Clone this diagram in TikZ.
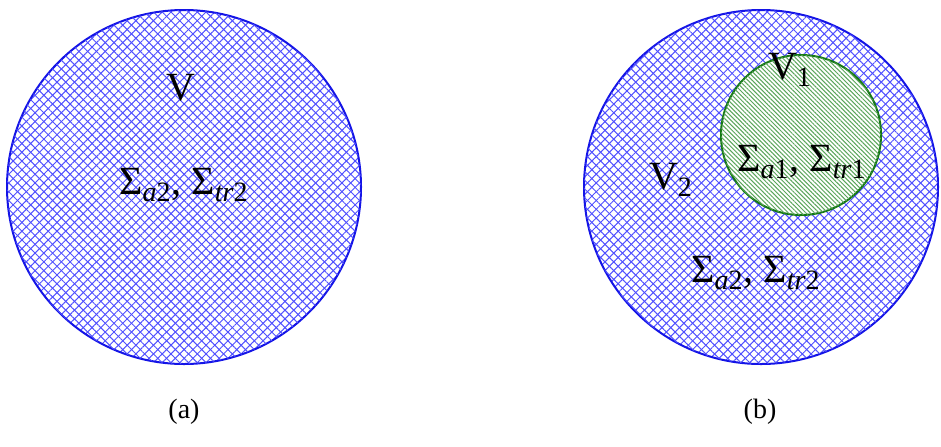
\documentclass[tikz,border=0pt]{standalone}
\usepackage{fontspec}
\setmainfont{Liberation Serif}
\usetikzlibrary{patterns.meta}
\definecolor{hatchblue}{RGB}{80,80,255}
\definecolor{rimblue}{RGB}{20,20,230}
\definecolor{stripegreen}{RGB}{90,165,90}
\definecolor{rimgreen}{RGB}{20,120,20}
\newcommand{\sig}[2]{\textup{Σ}\textsubscript{\textit{#1}#2}}
\begin{document}
\begin{tikzpicture}[x=0.5pt, y=-0.5pt,
    every node/.style={font=\fontsize{20}{24}\selectfont, inner sep=0pt},
    bluehatch/.style={circle, draw=rimblue, line width=1pt, minimum size=177pt,
      pattern={Lines[angle=45, distance=3.1pt, line width=0.5pt]}, pattern color=hatchblue,
      postaction={pattern={Lines[angle=-45, distance=3.1pt, line width=0.5pt]}, pattern color=hatchblue}},
    greenhatch/.style={circle, draw=rimgreen, line width=1pt, minimum size=80pt, fill=white,
      postaction={pattern={Lines[angle=-45, distance=1.55pt, line width=0.5pt]}, pattern color=stripegreen}},
    caption/.style={font=\fontsize{14}{17}\selectfont}]
    \useasboundingbox (0,0) rectangle (941,446);
    % (a) single region
    \node (diskA) [bluehatch] at (184,187) {};
    \node (volA) at (181,88) {V};
    \node (xsA) at (184,185) {\sig{a}{2}, \sig{tr}{2}};
    \node (capA) [caption] at (184,412) {(a)};
    % (b) region with inclusion
    \node (diskB) [bluehatch] at (761,187) {};
    \node (diskC) [greenhatch] at (801,135) {};
    \node (volC) at (790,70) {V\textsubscript{1}};
    \node (xsC) at (802,162) {\sig{a}{1}, \sig{tr}{1}};
    \node (volB) at (671,180) {V\textsubscript{2}};
    \node (xsB) at (756,273) {\sig{a}{2}, \sig{tr}{2}};
    \node (capB) [caption] at (760,412) {(b)};
\end{tikzpicture}
\end{document}
